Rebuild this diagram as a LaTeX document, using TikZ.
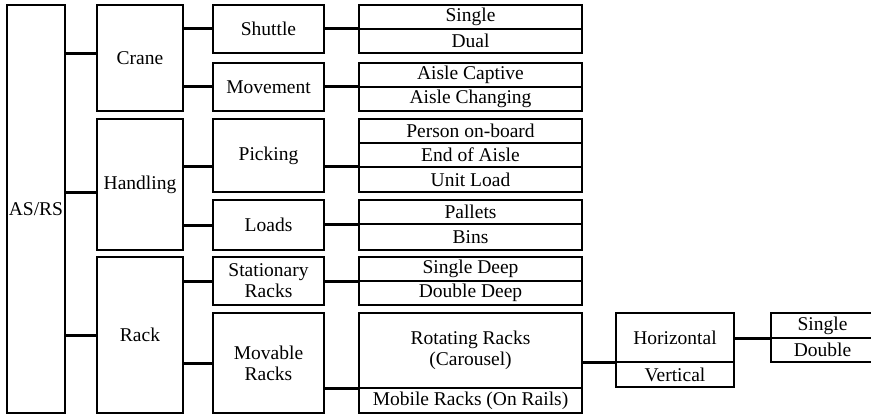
\documentclass[tikz,border=0pt]{standalone}
\usepackage{fontspec}
\setmainfont{Liberation Serif}
\tikzset{
  box/.style={draw, line width=1.5pt, inner sep=0pt, outer sep=0pt, align=center, font=\fontsize{11.7}{12.6}\selectfont},
  midbox/.style={box, minimum width=51.6pt},
  subbox/.style={box, minimum width=66.6pt},
  leafbox/.style={box, minimum width=133.8pt},
  link/.style={line width=1.8pt}
}
\begin{document}
\begin{tikzpicture}[x=0.6pt, y=-0.6pt]
  \useasboundingbox (0,0) rectangle (871,415);
  % root and first split
  \node[box, minimum width=34.8pt, minimum height=244.8pt] (asrs) at (36,209) {AS/RS};
  \node[midbox, minimum height=63.6pt] (crane) at (140,58) {Crane};
  \node[midbox, minimum height=78.6pt] (handling) at (140,184.5) {Handling};
  \node[midbox, minimum height=93.6pt] (rack) at (140,335) {Rack};
  % second split
  \node[subbox, minimum height=28.8pt] (shuttle) at (268.5,29) {Shuttle};
  \node[subbox, minimum height=28.8pt] (movement) at (268.5,87) {Movement};
  \node[subbox, minimum height=43.8pt] (picking) at (268.5,155.5) {Picking};
  \node[subbox, minimum height=30pt] (loads) at (268.5,225) {Loads};
  \node[subbox, minimum height=28.8pt] (stationary) at (268.5,281) {Stationary\\Racks};
  \node[subbox, minimum height=60pt] (movable) at (268.5,363) {Movable\\Racks};
  % leaves, stacked rows
  \foreach \name/\y/\h/\txt in {single/17/14.4/Single, dual/41/14.4/Dual,
      captive/75/14.4/Aisle Captive, changing/99/14.4/Aisle Changing,
      person/131/14.4/Person on-board, endaisle/155/14.4/End of Aisle, unitload/179.5/15/Unit Load,
      pallets/212/14.4/Pallets, bins/237/15.6/Bins,
      sdeep/269/14.4/Single Deep, ddeep/293/14.4/Double Deep,
      mobile/400.5/15/Mobile Racks (On Rails)}
    \node[leafbox, minimum height=\h pt] (\name) at (470.5,\y) {\txt};
  \node[leafbox, minimum height=45pt] (rotating) at (470.5,350.5) {Rotating Racks\\(Carousel)};
  \node[box, minimum width=70.8pt, minimum height=29.4pt] (horizontal) at (675,337.5) {Horizontal};
  \node[box, minimum width=70.8pt, minimum height=15pt] (vertical) at (675,374.5) {Vertical};
  \node[box, minimum width=61.8pt, minimum height=15pt] (single2) at (822.5,325.5) {Single};
  \node[box, minimum width=61.8pt, minimum height=14.4pt] (double2) at (822.5,350) {Double};
  % connectors
  \coordinate (cj) at ([yshift=2.4pt]crane.west);
  \draw[link] (asrs.east |- cj) -- (cj);
  \draw[link] (asrs.east |- unitload.south) -- (handling.west |- unitload.south);
  \draw[link] (asrs.east |- rack.west) -- (rack.west);
  \draw[link] (crane.east |- shuttle.west) -- (shuttle.west);
  \draw[link] (crane.east |- movement.west) -- (movement.west);
  \draw[link] (handling.east |- unitload.north) -- (picking.west |- unitload.north);
  \draw[link] (handling.east |- loads.west) -- (loads.west);
  \draw[link] (rack.east |- stationary.west) -- (stationary.west);
  \draw[link] (rack.east |- movable.west) -- (movable.west);
  \draw[link] (shuttle.east |- single.south) -- (single.south west);
  \draw[link] (movement.east |- captive.south) -- (captive.south west);
  \draw[link] (picking.east |- unitload.north) -- (unitload.north west);
  \draw[link] (loads.east |- pallets.south) -- (pallets.south west);
  \draw[link] (stationary.east |- sdeep.south) -- (sdeep.south west);
  \draw[link] (movable.east |- rotating.south) -- (rotating.south west);
  \draw[link] (rotating.east |- horizontal.south) -- (horizontal.south west);
  \draw[link] (horizontal.east |- single2.south) -- (single2.south west);
\end{tikzpicture}
\end{document}
